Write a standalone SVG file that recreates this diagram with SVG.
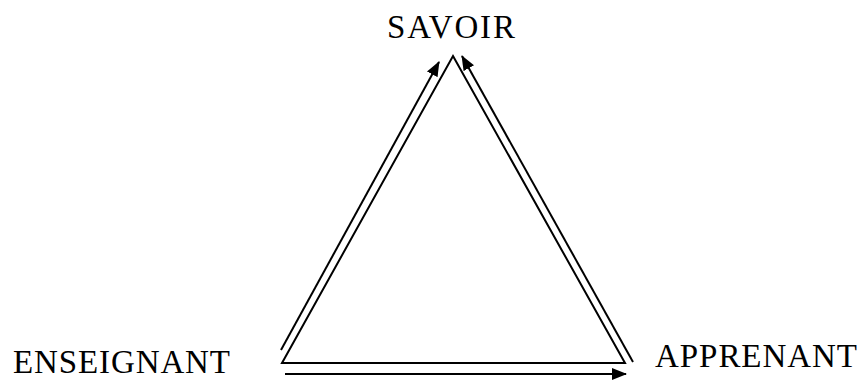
<svg xmlns="http://www.w3.org/2000/svg" width="861" height="380" viewBox="0 0 861 380">
<style>
.lbl{font-family:"Liberation Serif","Times New Roman",serif;font-size:33px;fill:#000}
.edge{fill:none;stroke:#000;stroke-width:2}
.arr{fill:none;stroke:#000;stroke-width:2;marker-end:url(#ah)}
</style>
<defs>
<marker id="ah" viewBox="0 0 15 12" refX="14" refY="6" markerWidth="15" markerHeight="12" markerUnits="userSpaceOnUse" orient="auto">
<path d="M0,0 L15,6 L0,12 z" fill="#000"/>
</marker>
</defs>
<rect width="861" height="380" fill="#fff"/>
<g id="savoir"><text class="lbl" x="387" y="38" textLength="128" lengthAdjust="spacing">SAVOIR</text></g>
<g id="enseignant"><text class="lbl" x="13" y="373" textLength="217" lengthAdjust="spacing">ENSEIGNANT</text></g>
<g id="apprenant"><text class="lbl" x="655" y="367" textLength="202" lengthAdjust="spacing">APPRENANT</text></g>
<g id="connectors">
<polygon class="edge" points="453,56 625,363 282,363"/>
<line class="arr" x1="281" y1="350" x2="439" y2="62"/>
<line class="arr" x1="633" y1="362" x2="462" y2="56"/>
<line class="arr" x1="285" y1="374" x2="626" y2="374"/>
</g>
</svg>
